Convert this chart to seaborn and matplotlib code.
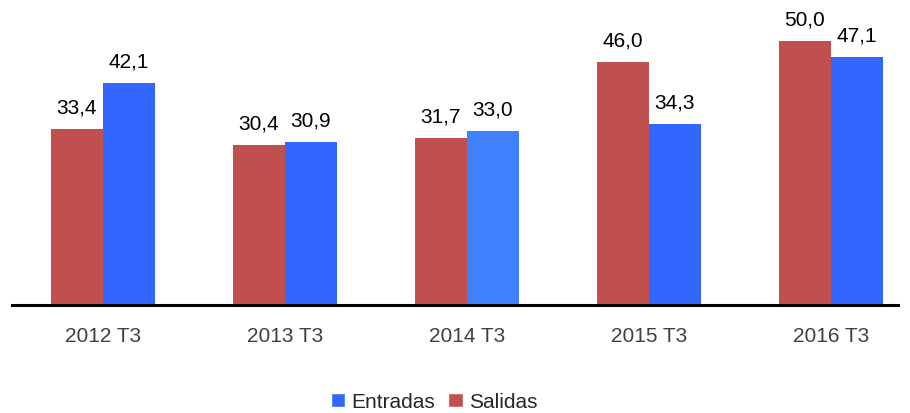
import pandas as pd
import matplotlib
matplotlib.use('Agg')
import matplotlib.pyplot as plt
import seaborn as sns
from matplotlib.patches import Patch

periods = ['2012 T3', '2013 T3', '2014 T3', '2015 T3', '2016 T3']
salidas = [33.4, 30.4, 31.7, 46.0, 50.0]
entradas = [42.1, 30.9, 33.0, 34.3, 47.1]

red = '#C0504D'
blue = '#3366FF'
blue_light = '#4080FF'

df = pd.DataFrame({
    'period': periods * 2,
    'value': salidas + entradas,
    'serie': ['Salidas'] * len(periods) + ['Entradas'] * len(periods),
})

sns.set_style('white')
plt.rcParams['font.family'] = ['Liberation Sans', 'DejaVu Sans']

fig = plt.figure(figsize=(9.1, 4.14), dpi=100)
ax = fig.add_axes([12 / 910, 108 / 414, 886 / 910, 306 / 414])

sns.barplot(data=df, x='period', y='value', hue='serie',
            hue_order=['Salidas', 'Entradas'],
            palette={'Salidas': red, 'Entradas': blue},
            width=0.572, saturation=1, legend=False, ax=ax)

for cont in ax.containers:
    for bar in cont:
        bar.set_edgecolor('none')
# the 2014 Entradas bar is a lighter blue in the original
ax.containers[1][2].set_facecolor(blue_light)

for cont in ax.containers:
    for bar in cont:
        h = bar.get_height()
        ax.annotate(f'{h:.1f}'.replace('.', ','),
                    (bar.get_x() + bar.get_width() / 2, h),
                    xytext=(0, 9), textcoords='offset points',
                    ha='center', va='bottom', fontsize=15, color='black')

ax.set_xlim(-0.5, 4.37)
ax.set_ylim(0, 58.0)
ax.set_xlabel('')
ax.set_ylabel('')
ax.set_yticks([])
for s in ['top', 'right', 'left']:
    ax.spines[s].set_visible(False)
ax.spines['bottom'].set_color('black')
ax.spines['bottom'].set_linewidth(2.2)
ax.tick_params(axis='x', length=0, pad=15, labelsize=15, labelcolor='#404040')

handles = [Patch(facecolor=blue, label='Entradas'),
           Patch(facecolor=red, label='Salidas')]
fig.legend(handles=handles, loc='center', bbox_to_anchor=(0.477, 0.027),
           ncol=2, frameon=False, fontsize=15, handlelength=0.7,
           handleheight=0.7, handletextpad=0.3, columnspacing=0.6)

fig.savefig('out.png', dpi=100)
